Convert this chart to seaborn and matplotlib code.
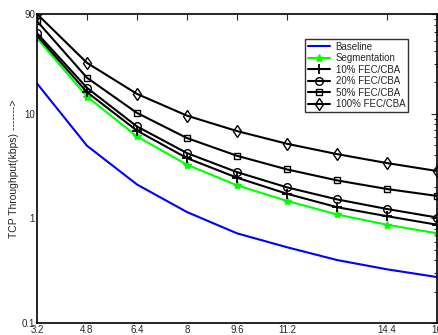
import matplotlib
matplotlib.use("Agg")
import matplotlib.pyplot as plt
import seaborn as sns
import pandas as pd
from matplotlib.ticker import FixedLocator, LogLocator, NullFormatter

sns.set_style("white")
plt.rcParams['font.family'] = ['Liberation Sans', 'DejaVu Sans']

x = [3.2, 4.8, 6.4, 8.0, 9.6, 11.2, 12.8, 14.4, 16.0]
baseline = [19.5, 4.95, 2.11, 1.15, 0.72, 0.53, 0.40, 0.326, 0.275]
segmentation = [53, 14.6, 6.07, 3.26, 2.07, 1.47, 1.09, 0.87, 0.72]
fec10 = [56, 16.1, 6.9, 3.77, 2.45, 1.72, 1.28, 1.05, 0.87]
fec20 = [59, 17.7, 7.57, 4.21, 2.77, 1.98, 1.52, 1.23, 1.02]
fec50 = [77, 22.1, 10.2, 5.86, 3.97, 2.94, 2.31, 1.91, 1.64]
fec100 = [90, 30.7, 15.5, 9.6, 6.84, 5.17, 4.12, 3.38, 2.84]

names = ["Baseline", "Segmentation", "10% FEC/CBA", "20% FEC/CBA", "50% FEC/CBA", "100% FEC/CBA"]
series = [baseline, segmentation, fec10, fec20, fec50, fec100]

xticks = [3.2, 4.8, 6.4, 8, 9.6, 11.2, 14.4, 16]
xticklabels = ["3.2", "4.8", "6.4", "8", "9.6", "11.2", "14.4", "16"]
yticks = [0.1, 1, 10, 90]
yticklabels = ["0.1", "1", "10", "90"]

styles = {
    "Baseline": dict(color="#0000ff", marker=None),
    "Segmentation": dict(color="#00ff00", marker="*", ms=6, mfc="#00ff00", mec="#00ff00", mew=1.0),
    "10% FEC/CBA": dict(color="black", marker="+", ms=7, mfc="black", mec="black", mew=1.3),
    "20% FEC/CBA": dict(color="black", marker="o", ms=5.5, mfc="none", mec="black", mew=1.0),
    "50% FEC/CBA": dict(color="black", marker="s", ms=5, mfc="none", mec="black", mew=1.0),
    "100% FEC/CBA": dict(color="black", marker="d", ms=6, mfc="none", mec="black", mew=1.0),
}

fig = plt.figure(figsize=(4.38, 3.35), dpi=100)
ax = fig.add_axes([37/438, 1-323/335, 400/438, 309/335])

keymap = {"mfc": "markerfacecolor", "mec": "markeredgecolor", "mew": "markeredgewidth"}
for name, vals in zip(names, series):
    df = pd.DataFrame({"x": x, "y": vals})
    st = dict(styles[name])
    color = st.pop("color")
    marker = st.pop("marker")
    kw = dict(color=color, linewidth=1.5, label=name)
    if marker:
        kw["marker"] = marker
        kw["markersize"] = st.pop("ms")
        for k, v in st.items():
            kw[keymap[k]] = v
    sns.lineplot(data=df, x="x", y="y", ax=ax, **kw)

ax.set_yscale("log")
ax.set_xlim(3.2, 16)
ax.set_ylim(0.1, 90)
ax.set_xticks(xticks)
ax.set_xticklabels(xticklabels)
ax.yaxis.set_major_locator(FixedLocator(yticks))
ax.set_yticklabels(yticklabels)
ax.yaxis.set_minor_locator(LogLocator(base=10, subs=range(2, 10)))
ax.yaxis.set_minor_formatter(NullFormatter())
ax.tick_params(axis="both", which="both", direction="in", top=True, right=True,
               labelsize=7, pad=1.5, width=0.8)
ax.tick_params(which="major", length=4)
ax.tick_params(which="minor", length=2)
ax.set_xlabel("")
ax.set_ylabel("TCP Throughput(kbps) ------->", fontsize=7.5, labelpad=2)
for s in ax.spines.values():
    s.set_color("black")
    s.set_linewidth(1.2)

leg = ax.legend(loc="upper right", bbox_to_anchor=(0.94, 0.935), fontsize=7,
                frameon=True, fancybox=False, edgecolor="black", handlelength=2.2,
                borderpad=0.3, labelspacing=0.15, handletextpad=0.6)
leg.get_frame().set_linewidth(1.0)

fig.savefig("out.png", dpi=100)
